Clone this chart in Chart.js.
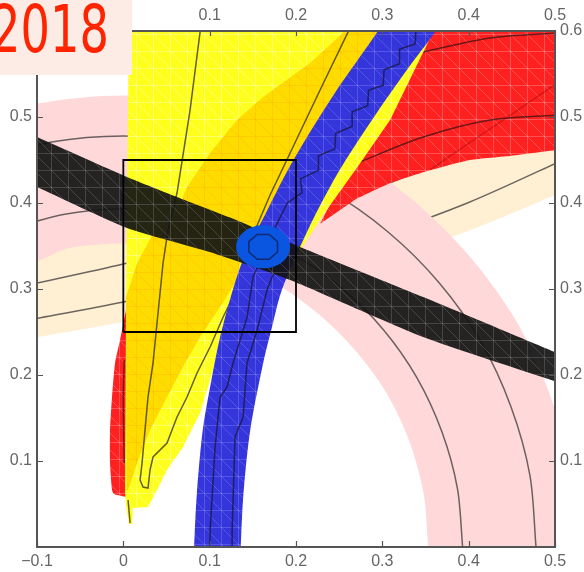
<!DOCTYPE html>
<html>
<head>
<meta charset="utf-8">
<script src="https://cdn.jsdelivr.net/npm/chart.js@4.4.1/dist/chart.umd.min.js"></script>
<style>
  html, body { margin: 0; padding: 0; background: #fff; }
  #wrap { width: 584px; height: 572px; }
</style>
</head>
<body>
<div id="wrap"><canvas id="chart" width="584" height="572"></canvas></div>
<script>
// axis ticks
const xTicks = [-0.1, 0, 0.1, 0.2, 0.3, 0.4, 0.5];
const yTicks = [0.1, 0.2, 0.3, 0.4, 0.5, 0.6];
const yearLabel = '2018';

// regions as [x, y]
const beigeBand = [[-0.12,0.2408],[-0.1,0.244],[0,0.2616],[0.1,0.282],[0.2,0.3057],[0.3,0.3339],[0.4,0.3677],[0.5,0.4093],[0.52,0.4187],
  [0.52,0.5831],[0.5,0.570],[0.4,0.5122],[0.3,0.465],[0.2,0.4258],[0.1,0.3927],[0,0.3644],[-0.1,0.3398],[-0.12,0.3353]];
const beigeLineA = [[-0.12,0.2623],[-0.1,0.2658],[0,0.285],[0.1,0.3072],[0.2,0.333],[0.3,0.3637],[0.4,0.4006],[0.5,0.4458],[0.52,0.4561]];
const beigeLineB = [[-0.12,0.3028],[-0.1,0.3069],[0,0.329],[0.1,0.3546],[0.2,0.3845],[0.3,0.4199],[0.4,0.4625],[0.5,0.5147]];

const pinkRing = [[0.525,0],[0.517,0.091],[0.493,0.180],[0.455,0.263],[0.402,0.337],[0.337,0.402],[0.263,0.455],[0.180,0.493],[0.091,0.517],[0,0.525],[-0.091,0.517],[-0.180,0.493],
  [-0.121,0.332],[-0.061,0.348],[0,0.353],[0.061,0.348],[0.121,0.332],[0.177,0.306],[0.227,0.270],[0.270,0.227],[0.306,0.177],[0.332,0.121],[0.348,0.061],[0.353,0]];
const pinkLineA = [[0.393,0],[0.387,0.068],[0.369,0.134],[0.340,0.197],[0.301,0.253],[0.253,0.301],[0.197,0.340],[0.134,0.369],[0.068,0.387],[0,0.393],[-0.068,0.387],[-0.134,0.369]];
const pinkLineB = [[0.478,0],[0.471,0.083],[0.449,0.163],[0.414,0.239],[0.366,0.307],[0.307,0.366],[0.239,0.414],[0.163,0.449],[0.083,0.471],[0,0.478],[-0.083,0.471],[-0.163,0.449]];

const redUpper = [[0.228,0.376],[0.262,0.44],[0.30,0.4965],[0.35,0.6],[0.36,0.625],[0.52,0.625],[0.52,0.4616],[0.5025,0.4616],[0.45,0.455],[0.4017,0.45],[0.3553,0.438],[0.309,0.423],[0.27,0.405]];
const redLeft = [[0.0031,0.2756],[-0.0038,0.2407],[-0.0096,0.214],[-0.0131,0.1744],[-0.0154,0.136],[-0.0154,0.0977],[-0.0131,0.0663],[-0.0108,0.0616],[0.0043,0.0581],[0.008,0.06],[0.008,0.28]];
const redLine1 = [[0.3473,0.5756],[0.4249,0.5919],[0.5025,0.5977]];
const redLine2 = [[0.2708,0.4465],[0.3473,0.4767],[0.4249,0.4965],[0.5025,0.5023]];
const redLine3 = [[0.3553,0.4384],[0.3936,0.4651],[0.44,0.4965],[0.5025,0.5395]];
const redLeftLine = [[0.001,0.2174],[0,0.171],[0.001,0.0977]];

const yellowFan = [[0.0066,0.63],[0.0043,0.4],[0.0032,0.287],[0.002,0.0628],[0.0031,0.0488],[0.0066,0.0267],[0.0101,0.0267],[0.0112,0.0453],[0.0286,0.0465],
  [0.039,0.0663],[0.0506,0.0895],[0.0692,0.1163],[0.0889,0.1558],[0.1005,0.1942],[0.1063,0.214],[0.1143,0.2523],[0.1387,0.33],[0.175,0.32],[0.205,0.345],
  [0.2314,0.386],[0.27,0.44],[0.309,0.4965],[0.3589,0.599],[0.37,0.63]];
const goldFan = [[0.004,0.066],[0.003,0.29],[0.0159,0.33],[0.0367,0.3686],[0.0576,0.38],[0.0738,0.4186],[0.1005,0.458],[0.1317,0.4965],[0.1619,0.5233],[0.2163,0.5628],
  [0.2569,0.60],[0.262,0.63],[0.32,0.63],[0.26,0.53],[0.22,0.46],[0.18,0.39],[0.15,0.34],[0.1352,0.3302],[0.1317,0.3105],[0.112,0.279],[0.0889,0.2442],
  [0.0715,0.214],[0.0506,0.1744],[0.0309,0.136],[0.0159,0.0977],[0.0055,0.0663]];
const yellowLine = [[0.0889,0.62],[0.0889,0.599],[0.0773,0.508],[0.0622,0.4116],[0.0518,0.3686],[0.046,0.330],[0.0402,0.2721],[0.0344,0.214],[0.0286,0.1744],[0.0251,0.136],
  [0.0217,0.0977],[0.0194,0.0779],[0.0228,0.0698],[0.0286,0.0686],[0.0309,0.0895],[0.0344,0.1047],[0.0506,0.1209],[0.0622,0.1512],[0.0738,0.1744],[0.0854,0.2023],
  [0.1005,0.2326],[0.1156,0.2674],[0.1271,0.2907],[0.1352,0.3105],[0.1492,0.3605],[0.17,0.4093],[0.1932,0.4581],[0.2279,0.5314],[0.2604,0.599],[0.2673,0.6128]];
const spikeLine = [[0.0055,0.0547],[0.0078,0.0279]];

const blueBand = [[0.082,-0.01],[0.082,0],[0.085,0.06],[0.092,0.136],[0.102,0.194],[0.114,0.252],[0.137,0.33],[0.166,0.39],[0.197,0.45],[0.245,0.528],[0.295,0.6],[0.31,0.625],
  [0.378,0.625],[0.362,0.6],[0.325,0.55],[0.289,0.498],[0.248,0.434],[0.213,0.367],[0.184,0.30],[0.172,0.255],[0.162,0.214],[0.147,0.136],[0.139,0.06],[0.136,0],[0.136,-0.01]];
const blueLineA = [[0.1005,-0.01],[0.1005,0.0198],[0.1063,0.116],[0.112,0.174],[0.1202,0.186],[0.1271,0.214],[0.1433,0.267],[0.1503,0.314],[0.17,0.36],[0.19,0.40],
  [0.207,0.412],[0.205,0.428],[0.226,0.438],[0.226,0.455],[0.245,0.463],[0.246,0.481],[0.265,0.489],[0.265,0.506],[0.283,0.513],[0.284,0.531],[0.301,0.537],
  [0.302,0.555],[0.320,0.562],[0.320,0.579],[0.338,0.585],[0.339,0.603],[0.357,0.61]];
const blueLineB = [[0.126,-0.01],[0.126,0.0198],[0.1294,0.128],[0.1387,0.151],[0.1433,0.214],[0.1549,0.252],[0.1665,0.299],[0.1723,0.314],[0.19,0.345]];

const blackBand = [[-0.11,0.481],[-0.1,0.4767],[0.0043,0.4302],[0.062,0.407],[0.1236,0.383],[0.1932,0.3535],[0.3473,0.2907],[0.5025,0.2256],[0.51,0.222],
  [0.51,0.189],[0.5025,0.1919],[0.3473,0.2442],[0.1932,0.3105],[0.1,0.343],[0.0043,0.371],[-0.1,0.4186],[-0.11,0.423]];

const fitEllipse = [[0.1933,0.349],[0.1909,0.3586],[0.1841,0.3667],[0.174,0.3721],[0.162,0.374],[0.15,0.3721],[0.1399,0.3667],[0.1331,0.3586],
  [0.1307,0.349],[0.1331,0.3394],[0.1399,0.3313],[0.15,0.3259],[0.162,0.324],[0.174,0.3259],[0.1841,0.3313],[0.1909,0.3394],[0.1933,0.349]];
const fitContour = [[0.1786,0.355],[0.1689,0.3635],[0.1551,0.3635],[0.1454,0.355],[0.1454,0.343],[0.1551,0.3345],[0.1689,0.3345],[0.1786,0.343],[0.1786,0.355]];

const zoomBox = [[0,0.25],[0.2,0.25],[0.2,0.45],[0,0.45],[0,0.25]];

const pts = a => a.map(([x, y]) => ({ x, y }));

function mesh(base, line) {
  const t = document.createElement('canvas');
  t.width = 17; t.height = 17;
  const c = t.getContext('2d');
  c.fillStyle = base;
  c.fillRect(0, 0, 17, 17);
  c.strokeStyle = line;
  c.lineWidth = 1;
  c.beginPath();
  c.moveTo(0.5, 0); c.lineTo(0.5, 17);
  c.moveTo(0, 0.5); c.lineTo(17, 0.5);
  c.moveTo(0, 0); c.lineTo(17, 17);
  c.stroke();
  return c.createPattern(t, 'repeat');
}

function region(data, fill, tension) {
  return { data: pts(data), fill: 'shape', backgroundColor: fill, borderWidth: 0, borderColor: 'rgba(0,0,0,0)', pointRadius: 0, tension: tension || 0 };
}
function curve(data, color, width, tension) {
  return { data: pts(data), fill: false, borderColor: color, borderWidth: width, pointRadius: 0, tension: tension || 0 };
}

const lineGray = 'rgba(60,55,55,0.75)';
const layers = [
  region(beigeBand, '#fff0d4', 0.3),
  curve(beigeLineA, lineGray, 1.5, 0.3),
  curve(beigeLineB, lineGray, 1.5, 0.3),
  region(pinkRing, '#ffd9d9', 0.3),
  curve(pinkLineA, lineGray, 1.5, 0.3),
  curve(pinkLineB, lineGray, 1.5, 0.3),
  region(redUpper, mesh('#ff2020', 'rgba(255,255,255,0.22)'), 0.2),
  region(redLeft, mesh('#ff2020', 'rgba(255,255,255,0.22)'), 0.2),
  curve(redLine1, 'rgba(70,20,20,0.8)', 1.5, 0.3),
  curve(redLine2, 'rgba(70,20,20,0.8)', 1.5, 0.3),
  curve(redLine3, 'rgba(140,0,0,0.35)', 1.5, 0.3),
  curve(redLeftLine, 'rgba(70,20,20,0.7)', 1.5, 0.3),
  region(yellowFan, mesh('#ffff1e', 'rgba(255,255,170,0.55)'), 0),
  region(goldFan, mesh('#ffdc00', 'rgba(255,185,0,0.45)'), 0),
  curve(yellowLine, 'rgba(60,55,20,0.8)', 1.5, 0),
  curve(spikeLine, 'rgba(60,55,20,0.8)', 1.5, 0),
  region(blueBand, mesh('#3535dc', 'rgba(170,170,255,0.28)'), 0.3),
  curve(blueLineA, 'rgba(25,25,70,0.8)', 1.5, 0),
  curve(blueLineB, 'rgba(25,25,70,0.8)', 1.5, 0),
  region(blackBand, mesh('rgba(18,18,18,0.92)', 'rgba(150,150,150,0.3)'), 0.2),
  curve(zoomBox, '#000', 1.8, 0),
  region(fitEllipse, '#0a56e0', 0.4),
  curve(fitContour, 'rgba(20,35,100,0.9)', 1.5, 0)
];
layers.forEach((d, i) => { d.order = layers.length - i; });

function fmt(v) {
  if (Math.abs(v) < 1e-9) return '0';
  return v.toFixed(1).replace('-', '\u2212');
}
function fmtNoZero(v) {
  return Math.abs(v) < 1e-9 ? '' : fmt(v);
}
const tickFont = { family: "'Liberation Sans', Arial, sans-serif", size: 16 };

function axis(position, min, max, ticks, cb, pad, size) {
  return {
    type: 'linear', position, min, max,
    afterBuildTicks: s => { s.ticks = ticks.map(v => ({ value: v })); },
    afterFit: s => {
      if (position === 'left' || position === 'right') s.width = size; else s.height = size;
    },
    ticks: { callback: cb, color: '#666', font: tickFont, padding: pad, maxRotation: 0, autoSkip: false },
    grid: { display: false, drawTicks: false },
    border: { display: false }
  };
}

const framePlugin = {
  id: 'frame',
  afterDatasetsDraw(chart) {
    const { ctx, chartArea: a, scales } = chart;
    ctx.save();
    ctx.strokeStyle = '#555';
    ctx.lineWidth = 1.2;
    ctx.beginPath();
    xTicks.forEach(v => {
      const px = Math.round(scales.x.getPixelForValue(v)) + 0.5;
      ctx.moveTo(px, a.bottom); ctx.lineTo(px, a.bottom - 6);
      ctx.moveTo(px, a.top); ctx.lineTo(px, a.top + 5);
    });
    yTicks.forEach(v => {
      const py = Math.round(scales.y.getPixelForValue(v)) + 0.5;
      ctx.moveTo(a.left, py); ctx.lineTo(a.left + 6, py);
      ctx.moveTo(a.right, py); ctx.lineTo(a.right - 6, py);
    });
    ctx.stroke();
    ctx.lineWidth = 2;
    ctx.strokeRect(a.left, a.top, a.right - a.left, a.bottom - a.top);
    ctx.restore();
  },
  afterDraw(chart) {
    const ctx = chart.ctx;
    ctx.save();
    ctx.fillStyle = '#fdebe6';
    ctx.fillRect(0, 0, 132, 75);
    ctx.fillStyle = '#ff2400';
    ctx.font = "66px 'DejaVu Sans', sans-serif";
    ctx.textAlign = 'left';
    ctx.textBaseline = 'alphabetic';
    const w = ctx.measureText(yearLabel).width;
    const target = 118;
    ctx.translate(-9, 52);
    ctx.scale(target / w, 1);
    ctx.fillText(yearLabel, 0, 0);
    ctx.restore();
  }
};

new Chart(document.getElementById('chart'), {
  type: 'line',
  data: { datasets: layers },
  options: {
    responsive: false,
    animation: false,
    layout: { padding: 0 },
    plugins: { legend: { display: false }, tooltip: { enabled: false } },
    scales: {
      x: axis('bottom', -0.1, 0.5, xTicks, fmt, 5, 25),
      x2: axis('top', -0.1, 0.5, xTicks, fmt, 6, 31),
      y: axis('left', 0, 0.6, yTicks, fmtNoZero, 5, 37),
      y2: axis('right', 0, 0.6, yTicks, fmtNoZero, 5, 29)
    }
  },
  plugins: [framePlugin]
});
</script>
</body>
</html>
